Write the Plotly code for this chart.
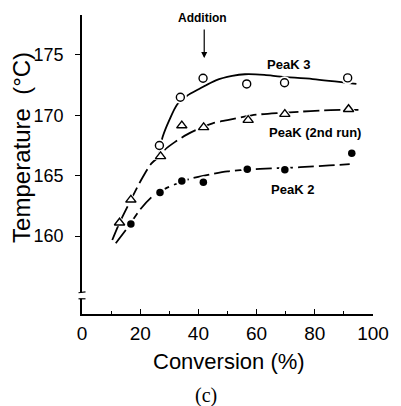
import plotly.graph_objects as go

# Measured points
peak3_x = [26.6, 33.8, 41.6, 56.6, 69.6, 91.3]
peak3_y = [167.5, 171.5, 173.07, 172.6, 172.7, 173.1]

run2_x = [12.9, 16.8, 27.0, 34.3, 41.8, 57.1, 69.7, 91.6]
run2_y = [161.1, 163.0, 166.6, 169.15, 169.0, 169.6, 170.1, 170.5]

peak2_x = [16.8, 26.8, 34.3, 41.7, 56.8, 69.7, 92.7]
peak2_y = [161.0, 163.6, 164.55, 164.45, 165.53, 165.5, 166.85]

# Hand-drawn trend curves
peak3_curve_x = [26.4, 27.7, 30.0, 32.7, 36.0, 40.4, 46.0, 51.6, 56.0, 62.7, 68.3, 79.3, 94.3]
peak3_curve_y = [166.8, 168.2, 169.6, 170.9, 171.6, 172.2, 172.9, 173.26, 173.4, 173.35, 173.2, 173.0, 172.6]

run2_curve_x = [10.4, 12.9, 16.8, 20.0, 23.8, 26.6, 28.2, 32.0, 36.0, 39.3, 44.9, 50.0, 55.0, 60.0, 68.0, 75.0, 82.0, 89.0, 95.0]
run2_curve_y = [159.67, 161.1, 163.0, 164.5, 166.0, 166.6, 167.1, 167.8, 168.4, 168.8, 169.34, 169.6, 169.85, 170.05, 170.2, 170.3, 170.4, 170.45, 170.45]

peak2_curve_x = [11.6, 16.0, 20.0, 24.3, 28.8, 32.7, 36.6, 42.0, 50.0, 57.0, 65.0, 75.0, 85.0, 92.0]
peak2_curve_y = [159.4, 160.8, 162.2, 163.3, 163.95, 164.35, 164.7, 165.0, 165.35, 165.5, 165.6, 165.7, 165.85, 165.95]

x_ticks = [0, 20, 40, 60, 80, 100]
y_ticks = [160, 165, 170, 175]

FONT = "Liberation Sans"
INK = "black"

fig = go.Figure()

# curves
fig.add_trace(go.Scatter(x=peak3_curve_x, y=peak3_curve_y, mode="lines",
                         line=dict(color=INK, width=1.8, shape="spline", smoothing=0.8),
                         hoverinfo="skip"))
fig.add_trace(go.Scatter(x=run2_curve_x, y=run2_curve_y, mode="lines",
                         line=dict(color=INK, width=1.8, shape="spline", smoothing=0.8,
                                   dash="16px,5px"),
                         hoverinfo="skip"))
fig.add_trace(go.Scatter(x=peak2_curve_x, y=peak2_curve_y, mode="lines",
                         line=dict(color=INK, width=1.8, shape="spline", smoothing=0.8,
                                   dash="16px,5px"),
                         hoverinfo="skip"))

# white halos so the curves break around the symbols
for xs, ys, sym, sz in [(peak3_x, peak3_y, "circle", 13),
                        (run2_x, run2_y, "triangle-up", 14),
                        (peak2_x, peak2_y, "circle", 12)]:
    fig.add_trace(go.Scatter(x=xs, y=ys, mode="markers",
                             marker=dict(symbol=sym, size=sz, color="white", line=dict(width=0)),
                             hoverinfo="skip"))

# data symbols
fig.add_trace(go.Scatter(x=peak3_x, y=peak3_y, mode="markers", name="Peak 3",
                         marker=dict(symbol="circle", size=8, color="white",
                                     line=dict(color=INK, width=1.4))))
fig.add_trace(go.Scatter(x=run2_x, y=run2_y, mode="markers", name="Peak (2nd run)",
                         marker=dict(symbol="triangle-up", size=9, color="white",
                                     line=dict(color=INK, width=1.4))))
fig.add_trace(go.Scatter(x=peak2_x, y=peak2_y, mode="markers", name="Peak 2",
                         marker=dict(symbol="circle", size=7.5, color=INK,
                                     line=dict(width=0))))

lbl = dict(family=FONT, size=13, color=INK)
annotations = [
    dict(x=71.0, y=174.17, xref="x", yref="y", text="<b>PeaK 3</b>", showarrow=False, font=lbl),
    dict(x=80.2, y=168.54, xref="x", yref="y", text="<b>PeaK (2nd run)</b>", showarrow=False, font=lbl),
    dict(x=72.3, y=163.86, xref="x", yref="y", text="<b>PeaK 2</b>", showarrow=False, font=lbl),
    dict(x=41.5, y=178.07, xref="x", yref="y", text="<b>Addition</b>", showarrow=False,
         font=dict(family=FONT, size=12, color=INK)),
    dict(x=42.0, y=174.75, xref="x", yref="y", text="", showarrow=True, ax=0, ay=-30,
         arrowhead=2, arrowsize=1, arrowwidth=1.2, arrowcolor=INK),
    dict(x=-0.21, y=0.5585, xref="paper", yref="paper", text="Temperature  (°C)",
         textangle=-90, showarrow=False, xanchor="center", yanchor="middle",
         font=dict(family=FONT, size=24, color=INK)),
    dict(x=0.505, y=-0.1605, xref="paper", yref="paper", text="Conversion (%)",
         showarrow=False, xanchor="center", yanchor="middle",
         font=dict(family=FONT, size=22, color=INK)),
    dict(x=0.427, y=-0.271, xref="paper", yref="paper", text="(c)",
         showarrow=False, xanchor="center", yanchor="middle",
         font=dict(family="Liberation Serif", size=20, color=INK)),
]

# axis break near the bottom of the temperature axis
shapes = [
    dict(type="rect", xref="paper", yref="y", x0=-0.012, x1=0.012, y0=154.8, y1=155.3,
         fillcolor="white", line=dict(width=0), layer="above"),
    dict(type="line", xref="paper", yref="y", x0=-0.012, x1=0.012, y0=155.3, y1=155.38,
         line=dict(color=INK, width=1.2), layer="above"),
    dict(type="line", xref="paper", yref="y", x0=-0.012, x1=0.012, y0=154.8, y1=154.8,
         line=dict(color=INK, width=1.2), layer="above"),
]

fig.update_layout(
    width=401, height=406,
    margin=dict(l=82, r=19, t=15, b=92),
    paper_bgcolor="white", plot_bgcolor="white",
    showlegend=False,
    annotations=annotations,
    shapes=shapes,
    xaxis=dict(range=[0, 100], tickvals=x_ticks, ticktext=[str(v) for v in x_ticks],
               showgrid=False, zeroline=False, showline=True, linecolor=INK, linewidth=1.8,
               ticks="inside", ticklen=5, tickwidth=1.2, tickcolor=INK,
               minor=dict(dtick=10, ticks="inside", ticklen=3, tickwidth=1, tickcolor=INK),
               ticklabelstandoff=1,
               tickfont=dict(family=FONT, size=19, color=INK), fixedrange=True),
    yaxis=dict(range=[153.54, 178.31], tickvals=y_ticks, ticktext=[str(v) for v in y_ticks],
               showgrid=False, zeroline=False, showline=True, linecolor=INK, linewidth=1.8,
               ticks="outside", ticklen=5, tickwidth=1.2, tickcolor=INK,
               ticklabelstandoff=8,
               tickfont=dict(family=FONT, size=18, color=INK), fixedrange=True),
)

fig.write_html("out.html")
